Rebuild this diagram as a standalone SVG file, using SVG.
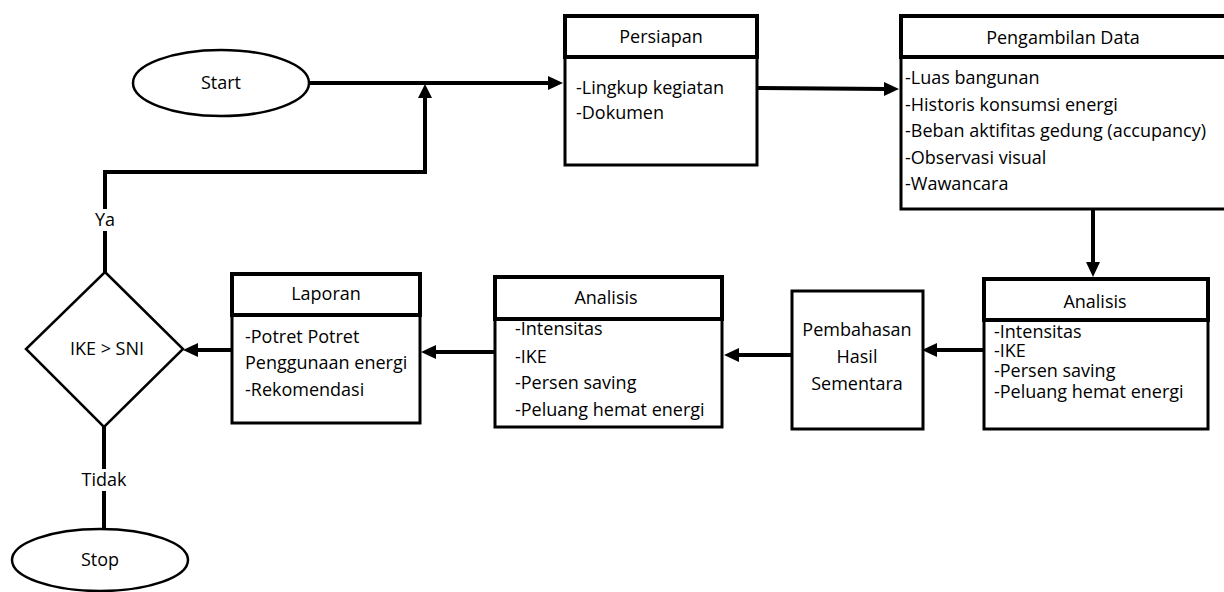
<svg xmlns="http://www.w3.org/2000/svg" width="1224" height="592" viewBox="0 0 1224 592">
<style>
text{font-family:"Open Sans","Liberation Sans",sans-serif;font-size:18px;fill:#000}
.c{text-anchor:middle}
.box{fill:#fff;stroke:#000;stroke-width:3}
.hd{fill:#fff;stroke:#000;stroke-width:4}
.sh{fill:#fff;stroke:#000;stroke-width:2.5}
.ln{fill:none;stroke:#000;stroke-width:4}
.lnA{fill:none;stroke:#000;stroke-width:4;marker-end:url(#ah)}
</style>
<defs>
<marker id="ah" markerUnits="userSpaceOnUse" markerWidth="16" markerHeight="14" refX="2" refY="7" orient="auto">
<path d="M0,0 L15,7 L0,14 z" fill="#000"/>
</marker>
</defs>
<rect width="1224" height="592" fill="#fff"/>
<g id="connectors">
<path class="lnA" d="M309,83 H550"/>
<path class="ln" d="M105,272 V172 H425 V98"/>
<path d="M418,98 L425,84 L432,98 z" fill="#000"/>
<path class="lnA" d="M757,88 L886,89"/>
<path class="lnA" d="M1093,209 V264"/>
<path class="lnA" d="M984,350 H935"/>
<path class="lnA" d="M792,355 H737"/>
<path class="lnA" d="M495,352 H434"/>
<path class="lnA" d="M232,350 H196"/>
<path class="ln" d="M104,427 V529"/>
<rect x="91" y="209" width="28" height="22" fill="#fff"/>
<text class="c" x="105" y="226">Ya</text>
<rect x="80" y="469" width="48" height="22" fill="#fff"/>
<text class="c" x="104" y="486">Tidak</text>
</g>
<g id="start">
<ellipse class="sh" cx="221" cy="83" rx="88" ry="33"/>
<text class="c" x="221" y="89">Start</text>
</g>
<g id="persiapan">
<rect class="box" x="565" y="16" width="192" height="149"/>
<rect class="hd" x="565" y="16" width="192" height="41"/>
<text class="c" x="661" y="43">Persiapan</text>
<text x="576" y="94">-Lingkup kegiatan</text>
<text x="576" y="119">-Dokumen</text>
</g>
<g id="pengambilan">
<rect class="box" x="901" y="16" width="330" height="193"/>
<rect class="hd" x="901" y="16" width="330" height="41"/>
<text class="c" x="1063" y="44">Pengambilan Data</text>
<text x="905" y="84">-Luas bangunan</text>
<text x="905" y="111">-Historis konsumsi energi</text>
<text x="905" y="137">-Beban aktifitas gedung (accupancy)</text>
<text x="905" y="164">-Observasi visual</text>
<text x="905" y="190">-Wawancara</text>
</g>
<g id="analisis2">
<rect class="box" x="984" y="279" width="224" height="150"/>
<rect class="hd" x="984" y="279" width="224" height="41"/>
<text class="c" x="1095" y="308">Analisis</text>
<text x="994" y="338">-Intensitas</text>
<text x="994" y="357">-IKE</text>
<text x="994" y="377">-Persen saving</text>
<text x="994" y="398">-Peluang hemat energi</text>
</g>
<g id="pembahasan">
<rect class="box" x="792" y="291" width="131" height="138"/>
<text class="c" x="857" y="336">Pembahasan</text>
<text class="c" x="857" y="363">Hasil</text>
<text class="c" x="857" y="390">Sementara</text>
</g>
<g id="analisis1">
<rect class="box" x="495" y="277" width="227" height="150"/>
<rect class="hd" x="495" y="277" width="227" height="42"/>
<text class="c" x="606" y="304">Analisis</text>
<text x="515" y="335">-Intensitas</text>
<text x="515" y="363">-IKE</text>
<text x="515" y="389">-Persen saving</text>
<text x="515" y="416">-Peluang hemat energi</text>
</g>
<g id="laporan">
<rect class="box" x="232" y="274" width="188" height="149"/>
<rect class="hd" x="232" y="274" width="188" height="41"/>
<text class="c" x="326" y="300">Laporan</text>
<text x="245" y="343">-Potret Potret</text>
<text x="245" y="369">Penggunaan energi</text>
<text x="245" y="396">-Rekomendasi</text>
</g>
<g id="decision">
<path class="sh" d="M105,272 L183,349 L104,427 L26,349 z"/>
<text class="c" x="107" y="355">IKE &gt; SNI</text>
</g>
<g id="stop">
<ellipse class="sh" cx="100" cy="560" rx="88" ry="31"/>
<text class="c" x="100" y="566">Stop</text>
</g>
</svg>
